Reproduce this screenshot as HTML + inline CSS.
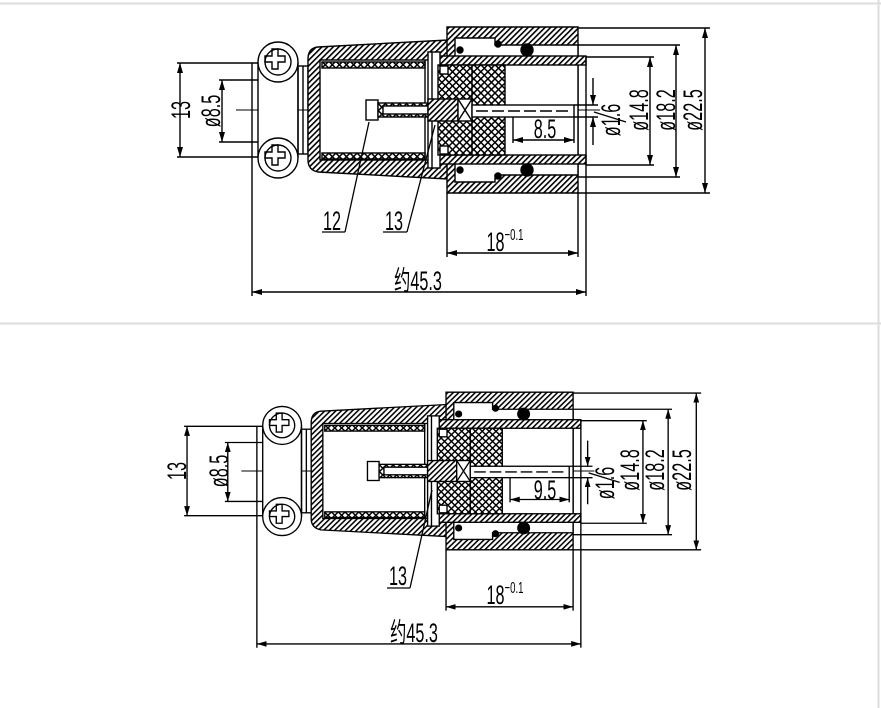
<!DOCTYPE html>
<html><head><meta charset="utf-8"><style>
html,body{margin:0;padding:0;background:#fff;}
svg{display:block;}
text{font-family:"Liberation Sans Narrow","Liberation Sans","Noto Sans CJK SC",sans-serif;fill:#000;}
</style></head><body>
<svg width="881" height="708" viewBox="0 0 881 708" xmlns="http://www.w3.org/2000/svg">
<defs>
<pattern id="h" width="4" height="4" patternUnits="userSpaceOnUse" patternTransform="rotate(45)">
<rect width="4" height="4" fill="#fff"/><rect x="0" y="0" width="1.6" height="4" fill="#000"/></pattern>
<pattern id="x" width="5" height="5" patternUnits="userSpaceOnUse" patternTransform="rotate(45)">
<rect width="5" height="5" fill="#fff"/><rect x="0" y="0" width="1.5" height="5" fill="#000"/><rect x="0" y="0" width="5" height="1.5" fill="#000"/></pattern>
<marker id="a" viewBox="0 0 10 6" refX="10" refY="3" markerWidth="10" markerHeight="6" orient="auto-start-reverse" markerUnits="userSpaceOnUse"><path d="M0,0 L10,3 L0,6 Z" fill="#000"/></marker>
<g id="c" stroke="#000" stroke-width="1.4" fill="none">
 <line x1="180" y1="63" x2="180" y2="157" marker-start="url(#a)" marker-end="url(#a)"/>
 <line x1="177" y1="63" x2="258" y2="63"/><line x1="177" y1="157" x2="258" y2="157"/>
 <line x1="222" y1="80" x2="222" y2="142" marker-start="url(#a)" marker-end="url(#a)"/>
 <line x1="219" y1="80" x2="258" y2="80"/><line x1="219" y1="142" x2="258" y2="142"/>
 <line x1="236" y1="110" x2="600" y2="110" stroke-width="1"/>
 <line x1="252" y1="63" x2="252" y2="296"/>
 <rect x="258" y="63" width="40" height="94" fill="#fff"/>
 <circle cx="278" cy="62" r="20" fill="#fff"/><circle cx="278" cy="62" r="13"/>
 <circle cx="278" cy="158" r="20" fill="#fff"/><circle cx="278" cy="158" r="13"/>
 <path d="M272,56 h3 v-7 h6 v7 h7 v6 h-7 v7 h-6 v-7 h-7 v-6 z" transform="translate(-3,0)"/>
 <path d="M272,152 h3 v-7 h6 v7 h7 v6 h-7 v7 h-6 v-7 h-7 v-6 z" transform="translate(-3,0)"/>
 <rect x="298" y="66" width="10" height="88"/><line x1="303" y1="66" x2="303" y2="154"/>
 <path d="M318,47 L448,40 L455,46 L455,174 L448,179 L318,172 Q308,170 308,160 L308,59 Q308,48 318,47 Z" fill="url(#h)"/>
 <rect x="320" y="60" width="125" height="100" fill="#fff"/>
 <rect x="322" y="62" width="103" height="6" fill="url(#x)"/>
 <rect x="322" y="153" width="103" height="6" fill="url(#x)"/>
 <line x1="425" y1="60" x2="425" y2="160"/>
 <path d="M447,27 H578 V193 H447 Z" fill="url(#h)"/>
 <path d="M455,38 H495 V45 H578 V175 H495 V182 H455 Z" fill="#fff"/>
 <circle cx="527" cy="50" r="6" fill="#000"/><circle cx="527" cy="170" r="6" fill="#000"/>
 <circle cx="460" cy="50" r="3" fill="#000"/><circle cx="460" cy="170" r="3" fill="#000"/>
 <circle cx="498" cy="44" r="3" fill="#000"/><circle cx="498" cy="176" r="3" fill="#000"/>
 <rect x="430" y="56" width="156" height="9" fill="url(#h)"/>
 <rect x="430" y="155" width="156" height="9" fill="url(#h)"/>
 <line x1="586" y1="56" x2="586" y2="164"/>
 <rect x="428" y="52" width="12" height="116" fill="#fff"/>
 <line x1="432" y1="52" x2="432" y2="168"/>
 <rect x="438" y="65" width="67" height="90" fill="url(#x)"/>
 <line x1="472" y1="65" x2="472" y2="155"/>
 <rect x="440" y="66" width="8" height="8" fill="#fff"/><rect x="440" y="146" width="8" height="8" fill="#fff"/>
 <rect x="366" y="100" width="12" height="20" fill="#fff"/>
 <rect x="378" y="103" width="54" height="14" fill="url(#x)"/>
 <rect x="383" y="106" width="45" height="8" fill="#fff"/>
 <rect x="428" y="99" width="30" height="22" fill="url(#h)"/>
 <rect x="458" y="99" width="14" height="22" fill="#fff"/>
 <line x1="458" y1="99" x2="472" y2="121"/><line x1="472" y1="99" x2="458" y2="121"/>
 <rect x="472" y="105" width="102" height="12" fill="#fff"/>
 <line x1="476" y1="111" x2="570" y2="111" stroke-dasharray="12,4"/>
 <line x1="513" y1="117" x2="513" y2="143"/><line x1="574" y1="117" x2="574" y2="143"/>
 <line x1="513" y1="140" x2="574" y2="140" marker-start="url(#a)" marker-end="url(#a)"/>
 <line x1="574" y1="105" x2="598" y2="105"/><line x1="574" y1="117" x2="598" y2="117"/>
 <line x1="593" y1="78" x2="593" y2="105" marker-end="url(#a)"/>
 <line x1="593" y1="145" x2="593" y2="117" marker-end="url(#a)"/>
 <line x1="594" y1="112" x2="626" y2="122"/>
 <line x1="586" y1="57" x2="654" y2="57"/><line x1="586" y1="165" x2="654" y2="165"/>
 <line x1="650" y1="57" x2="650" y2="165" marker-start="url(#a)" marker-end="url(#a)"/>
 <line x1="578" y1="45" x2="680" y2="45"/><line x1="578" y1="177" x2="680" y2="177"/>
 <line x1="676" y1="45" x2="676" y2="177" marker-start="url(#a)" marker-end="url(#a)"/>
 <line x1="578" y1="28" x2="710" y2="28"/><line x1="578" y1="193" x2="710" y2="193"/>
 <line x1="705" y1="28" x2="705" y2="193" marker-start="url(#a)" marker-end="url(#a)"/>
 <line x1="447" y1="193" x2="447" y2="257"/><line x1="578" y1="193" x2="578" y2="257"/>
 <line x1="447" y1="253" x2="578" y2="253" marker-start="url(#a)" marker-end="url(#a)"/>
 <line x1="586" y1="164" x2="586" y2="296"/>
 <line x1="252" y1="292" x2="586" y2="292" marker-start="url(#a)" marker-end="url(#a)"/>
</g>
</defs>
<line x1="0" y1="3.5" x2="881" y2="3.5" stroke="#ddd" stroke-width="2"/>
<line x1="0" y1="323.5" x2="881" y2="323.5" stroke="#ddd" stroke-width="2"/>
<line x1="878.5" y1="0" x2="878.5" y2="708" stroke="#ddd" stroke-width="2"/>

<use href="#c"/>
<g transform="translate(447,471) scale(0.97,0.95) translate(-448,-110)"><use href="#c"/></g>

<g font-size="27">
<text transform="translate(190,110) rotate(-90) scale(0.6,1)" text-anchor="middle">13</text>
<text transform="translate(220,111) rotate(-90) scale(0.6,1)" text-anchor="middle">ø8.5</text>
<text transform="translate(545,138) scale(0.6,1)" text-anchor="middle">8.5</text>
<text transform="translate(620,120) rotate(-90) scale(0.6,1)" text-anchor="middle">ø1.6</text>
<text transform="translate(648,110) rotate(-90) scale(0.6,1)" text-anchor="middle">ø14.8</text>
<text transform="translate(675,110) rotate(-90) scale(0.6,1)" text-anchor="middle">ø18.2</text>
<text transform="translate(702,110) rotate(-90) scale(0.6,1)" text-anchor="middle">ø22.5</text>
<text transform="translate(505,251) scale(0.6,1)" text-anchor="middle">18<tspan font-size="16" dy="-11">−0.1</tspan></text>
<text transform="translate(418,290) scale(0.6,1)" text-anchor="middle">约45.3</text>
<text transform="translate(332,230) scale(0.6,1)" text-anchor="middle">12</text>
<text transform="translate(394,230) scale(0.6,1)" text-anchor="middle">13</text>
</g>
<g stroke="#000" stroke-width="1.3" fill="none">
<line x1="322" y1="232" x2="345" y2="232"/><line x1="345" y1="232" x2="369" y2="122"/>
<line x1="383" y1="232" x2="407" y2="232"/><line x1="407" y1="232" x2="435" y2="125"/>
<line x1="387" y1="588" x2="410" y2="588"/><line x1="410" y1="588" x2="432" y2="490"/>
</g>
<g font-size="27">
<text transform="translate(186,471) rotate(-90) scale(0.6,1)" text-anchor="middle">13</text>
<text transform="translate(228,471) rotate(-90) scale(0.6,1)" text-anchor="middle">ø8.5</text>
<text transform="translate(545,499) scale(0.6,1)" text-anchor="middle">9.5</text>
<text transform="translate(614,483) rotate(-90) scale(0.6,1)" text-anchor="middle">ø1.6</text>
<text transform="translate(639,470) rotate(-90) scale(0.6,1)" text-anchor="middle">ø14.8</text>
<text transform="translate(664,470) rotate(-90) scale(0.6,1)" text-anchor="middle">ø18.2</text>
<text transform="translate(691,470) rotate(-90) scale(0.6,1)" text-anchor="middle">ø22.5</text>
<text transform="translate(505,604) scale(0.6,1)" text-anchor="middle">18<tspan font-size="16" dy="-11">−0.1</tspan></text>
<text transform="translate(414,642) scale(0.6,1)" text-anchor="middle">约45.3</text>
<text transform="translate(398,585) scale(0.6,1)" text-anchor="middle">13</text>
</g>
</svg>
</body></html>
